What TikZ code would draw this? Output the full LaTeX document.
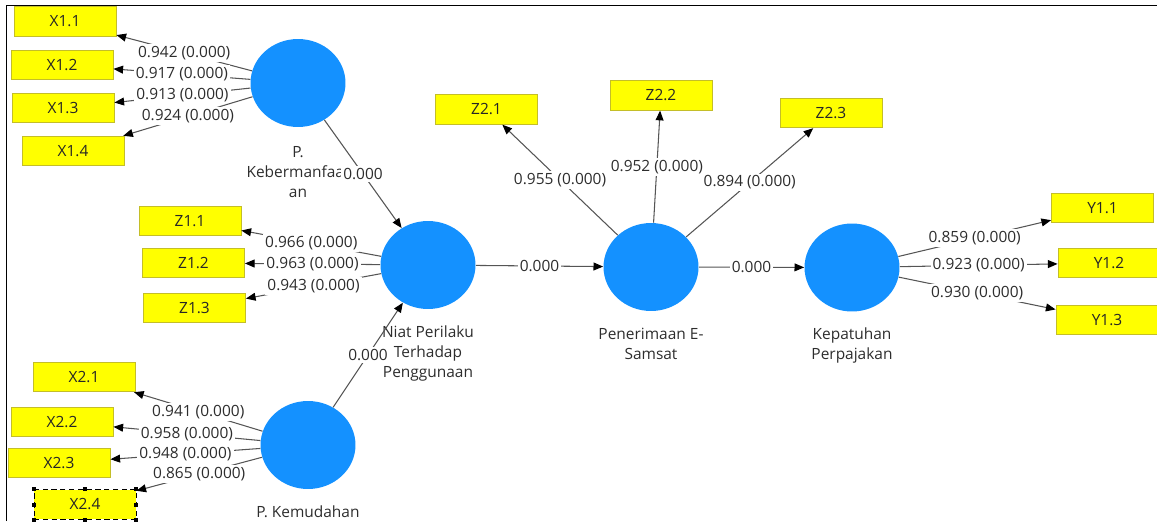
\documentclass[tikz,border=0pt]{standalone}
\usepackage{fontspec}
\setmainfont{Open Sans}
\usetikzlibrary{shapes.geometric,arrows.meta,positioning}
\definecolor{latentblue}{RGB}{20,145,255}
\definecolor{itemyellow}{RGB}{255,255,0}
\definecolor{itemborder}{RGB}{196,190,40}
\definecolor{pathgray}{RGB}{85,85,85}
\definecolor{textgray}{RGB}{45,45,45}
\tikzset{
  latent/.style={ellipse,fill=latentblue,minimum width=1.9cm,minimum height=1.76cm,inner sep=0pt},
  item/.style={rectangle,fill=itemyellow,draw=itemborder,line width=0.5pt,minimum width=2.04cm,minimum height=0.59cm,inner sep=0pt,text=black!85},
  latname/.style={align=center,inner sep=0pt,text=textgray},
  coef/.style={fill=white,inner sep=1.2pt,text=textgray},
  link/.style={draw=pathgray,line width=0.6pt,-{Triangle[black,length=5.5pt,width=4.5pt]}}
}

\begin{document}
\begin{tikzpicture}[x=0.02cm,y=-0.02cm,font=\fontsize{8.8pt}{11.4pt}\selectfont]
  \useasboundingbox (0,0) rectangle (1157,521);
  \draw[line width=1.1pt] (6.5,521) -- (6.5,5.5) -- (1157,5.5);

  % latent variables
  \node[latent] (pk) at (298,83) {};
  \node[latent] (niat) at (428,265) {};
  \node[latent] (pkem) at (308,445) {};
  \node[latent] (pen) at (651,267) {};
  \node[latent] (kep) at (852,267.5) {};
  \node[latname,below=0.38cm of pk] {P.\\Kebermanfaat\\an};
  \node[latname,below=0.32cm of niat] {Niat Perilaku\\Terhadap\\Penggunaan};
  \node[latname,below=0.32cm of pkem] {P. Kemudahan};
  \node[latname,below=0.32cm of pen] {Penerimaan E-\\Samsat};
  \node[latname,below=0.32cm of kep] {Kepatuhan\\Perpajakan};

  % indicators
  \foreach \id/\txt/\px/\py in {x11/X1.1/65/21.5, x12/X1.2/62/65, x13/X1.3/63/108, x14/X1.4/73/151,
      x21/X2.1/84/377, x22/X2.2/62/422, x23/X2.3/59/463,
      z11/Z1.1/190/221, z12/Z1.2/193.5/263, z13/Z1.3/194.5/308,
      z21/Z2.1/486.5/109.5, z22/Z2.2/661/95.5, z23/Z2.3/831/113,
      y11/Y1.1/1102.5/208, y12/Y1.2/1109/263, y13/Y1.3/1107/320}
    \node[item] (\id) at (\px,\py) {\txt};
  \node[item,draw=black,densely dashed] (x24) at (85,504.5) {X2.4};
  \foreach \a in {north west,north,north east,west,east,south west,south,south east}
    \fill (x24.\a) +(-2,-2) rectangle +(2,2);

  % outer loadings
  \foreach \src/\dst/\val in {pk/x11/0.942, pk/x12/0.917, pk/x13/0.913, pk/x14/0.924,
      pkem/x21/0.941, pkem/x22/0.958, pkem/x23/0.948, pkem/x24/0.865,
      niat/z11/0.966, niat/z12/0.963, niat/z13/0.943,
      pen/z21/0.955, pen/z22/0.952, pen/z23/0.894,
      kep/y11/0.859, kep/y12/0.923, kep/y13/0.930}
    \draw[link] (\src) -- node[coef] {\val{} (0.000)} (\dst);

  % inner model
  \draw[link] (pk) -- node[coef] {0.000} (niat);
  \draw[link] (pkem) -- node[coef] {0.000} (niat);
  \draw[link] (niat) -- node[coef] {0.000} (pen);
  \draw[link] (pen) -- node[coef] {0.000} (kep);
\end{tikzpicture}
\end{document}
